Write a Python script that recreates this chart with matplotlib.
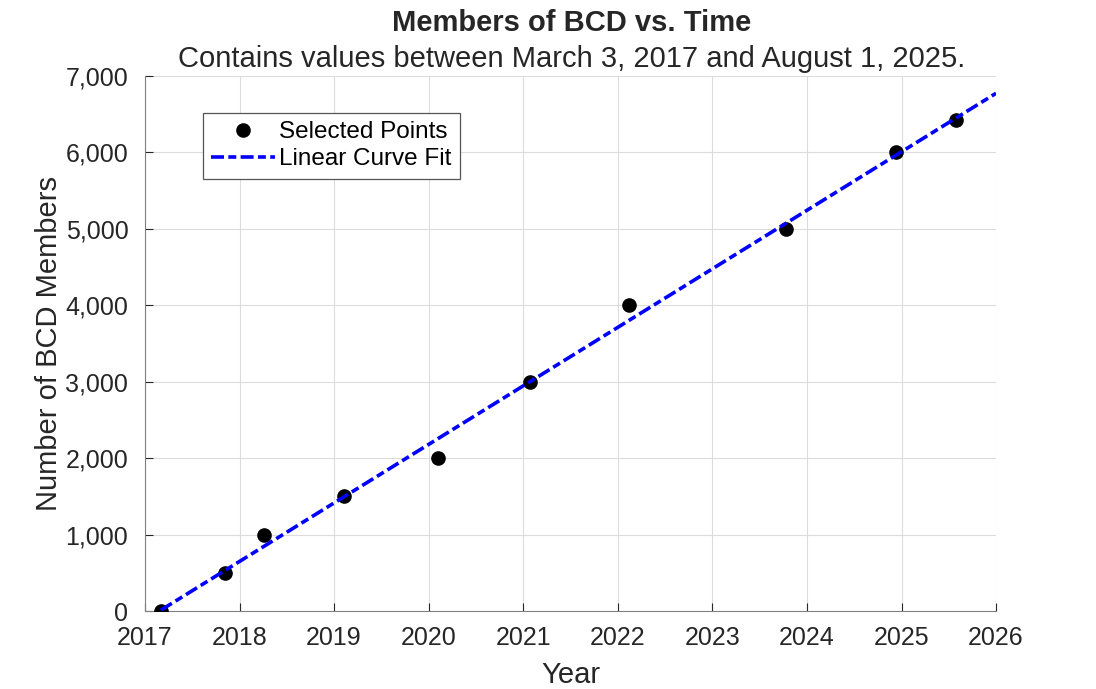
import datetime as dt
import numpy as np
import matplotlib
matplotlib.use('Agg')
import matplotlib.pyplot as plt
import matplotlib.dates as mdates
from matplotlib.ticker import FuncFormatter

dates = [dt.datetime(2017, 3, 3), dt.datetime(2017, 11, 7), dt.datetime(2018, 4, 5),
         dt.datetime(2019, 2, 8), dt.datetime(2020, 2, 7), dt.datetime(2021, 1, 27),
         dt.datetime(2022, 2, 14), dt.datetime(2023, 10, 12), dt.datetime(2024, 12, 10),
         dt.datetime(2025, 8, 1)]
members = [0, 500, 1000, 1500, 2000, 3000, 4000, 5000, 6000, 6430]
fit_end = dt.datetime(2026, 1, 1)
year_ticks = [dt.datetime(y, 1, 1) for y in range(2017, 2027)]

plt.rcParams['font.family'] = ['Liberation Sans', 'DejaVu Sans']

fig = plt.figure(figsize=(10.96, 6.89), dpi=100)
ax = fig.add_axes([0.1323, 0.1132, 0.7765, 0.7765])

xn = mdates.date2num(dates)
p = np.polyfit(xn, members, 1)
fx = np.array([xn[0], mdates.date2num(fit_end)])

ax.plot(dates, members, 'o', color='black', markersize=9.5, label='Selected Points', zorder=3)
ax.plot(mdates.num2date(fx), np.polyval(p, fx), color='blue', linewidth=2.6,
        linestyle=(0, (3.6, 1.2, 2.2, 1.2)), label='Linear Curve Fit', zorder=4)

ax.set_xlim(year_ticks[0], year_ticks[-1])
ax.set_ylim(0, 7000)
ax.set_xticks(year_ticks)
ax.xaxis.set_major_formatter(mdates.DateFormatter('%Y'))
ax.set_yticks(range(0, 7001, 1000))
ax.yaxis.set_major_formatter(FuncFormatter(lambda v, _: f'{int(v):,}'))

for s in ['top', 'right']:
    ax.spines[s].set_visible(False)
for s in ['left', 'bottom']:
    ax.spines[s].set_color('#808080')
ax.tick_params(direction='in', length=6, color='#262626', labelsize=18, labelcolor='#262626')
ax.tick_params(axis='x', pad=11)
ax.tick_params(axis='y', pad=12)
ax.grid(True, color='#dcdcdc', linewidth=0.8)
ax.set_axisbelow(True)

ax.set_xlabel('Year', fontsize=21, color='#262626', labelpad=8)
ax.set_ylabel('Number of BCD Members', fontsize=21, color='#262626', labelpad=2)
fig.text(0.5215, 0.967, 'Members of BCD vs. Time', ha='center', va='center',
         fontsize=21, fontweight='bold', color='#262626')
fig.text(0.5215, 0.915, 'Contains values between March 3, 2017 and August 1, 2025.',
         ha='center', va='center', fontsize=21, color='#262626')

leg = ax.legend(loc='upper left', bbox_to_anchor=(0.068, 0.931), fontsize=17.5,
                fancybox=False, edgecolor='#555555', framealpha=1,
                handlelength=2.6, borderpad=0.35, labelspacing=0.2, handletextpad=0.2,
                borderaxespad=0)
leg.get_frame().set_linewidth(0.9)

fig.savefig('out.png', dpi=100)
